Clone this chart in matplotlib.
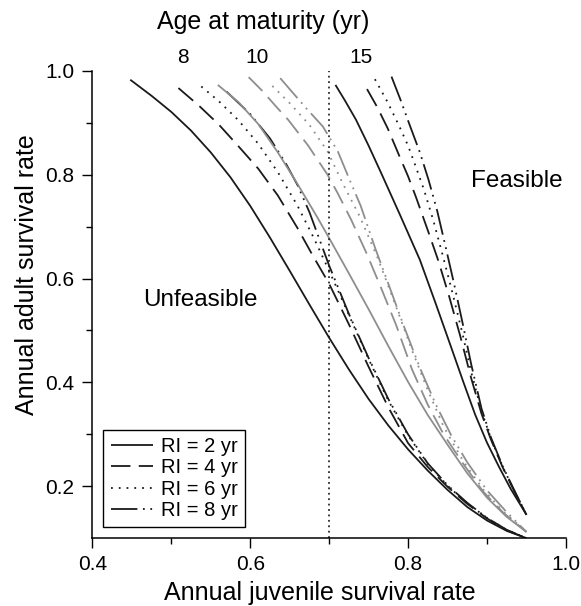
import matplotlib
matplotlib.use("Agg")
import matplotlib.pyplot as plt

plt.rcParams['font.family'] = ['Liberation Sans', 'DejaVu Sans']
plt.rcParams['lines.scale_dashes'] = False

# ---- data ----
# Age at maturity 8 yr (black)
a8_ri2_x = [0.448, 0.475, 0.50, 0.525, 0.55, 0.575, 0.60, 0.625, 0.65, 0.675, 0.70, 0.725, 0.75,
            0.775, 0.80, 0.825, 0.85, 0.875, 0.90, 0.925, 0.95]
a8_ri2_y = [0.983, 0.952, 0.921, 0.885, 0.843, 0.795, 0.740, 0.679, 0.615, 0.550, 0.486, 0.425, 0.368,
            0.317, 0.271, 0.230, 0.193, 0.160, 0.134, 0.114, 0.100]
a8_ri4_x = [0.509, 0.535, 0.56, 0.585, 0.61, 0.635, 0.66, 0.679, 0.70, 0.725, 0.75, 0.775, 0.80,
            0.825, 0.85, 0.875, 0.90, 0.925, 0.95]
a8_ri4_y = [0.967, 0.933, 0.897, 0.855, 0.812, 0.760, 0.697, 0.645, 0.590, 0.512, 0.430, 0.352, 0.283,
            0.237, 0.199, 0.166, 0.138, 0.115, 0.100]
a8_ri6_x = [0.538, 0.56, 0.585, 0.61, 0.635, 0.66, 0.68, 0.70, 0.725, 0.75, 0.775, 0.80, 0.825,
            0.85, 0.875, 0.90, 0.925, 0.95]
a8_ri6_y = [0.970, 0.942, 0.905, 0.860, 0.805, 0.740, 0.680, 0.615, 0.530, 0.445, 0.365, 0.298, 0.243,
            0.201, 0.167, 0.139, 0.116, 0.100]
a8_ri8_x = [0.57, 0.60, 0.625, 0.645, 0.66, 0.675, 0.70, 0.725, 0.75, 0.775, 0.80, 0.825, 0.85,
            0.875, 0.90, 0.925, 0.95]
a8_ri8_y = [0.960, 0.917, 0.870, 0.822, 0.780, 0.728, 0.625, 0.532, 0.447, 0.368, 0.300, 0.244, 0.202,
            0.168, 0.139, 0.116, 0.100]

# Age at maturity 10 yr (grey)
a10_ri2_x = [0.559, 0.585, 0.61, 0.635, 0.66, 0.685, 0.70, 0.725, 0.75, 0.775, 0.80, 0.825, 0.85,
             0.875, 0.90, 0.925, 0.95]
a10_ri2_y = [0.973, 0.940, 0.898, 0.843, 0.782, 0.718, 0.678, 0.610, 0.541, 0.470, 0.401, 0.337, 0.280,
             0.225, 0.178, 0.141, 0.112]
a10_ri4_x = [0.598, 0.615, 0.633, 0.648, 0.673, 0.698, 0.711, 0.728, 0.747, 0.765, 0.785, 0.805,
             0.825, 0.845, 0.87, 0.895, 0.92, 0.95]
a10_ri4_y = [0.988, 0.962, 0.931, 0.906, 0.857, 0.800, 0.764, 0.713, 0.650, 0.585, 0.510, 0.425,
             0.357, 0.300, 0.243, 0.190, 0.150, 0.112]
a10_ri6_x = [0.628, 0.65, 0.675, 0.698, 0.717, 0.739, 0.762, 0.785, 0.805, 0.825, 0.845, 0.87,
             0.895, 0.92, 0.95]
a10_ri6_y = [0.971, 0.938, 0.896, 0.845, 0.784, 0.719, 0.638, 0.545, 0.462, 0.385, 0.315, 0.248,
             0.194, 0.152, 0.112]
a10_ri8_x = [0.638, 0.671, 0.692, 0.711, 0.726, 0.74, 0.758, 0.775, 0.795, 0.815, 0.835, 0.855,
             0.875, 0.90, 0.925, 0.95]
a10_ri8_y = [0.986, 0.928, 0.893, 0.845, 0.790, 0.740, 0.660, 0.590, 0.507, 0.428, 0.358, 0.297,
             0.246, 0.192, 0.150, 0.112]

# Age at maturity 15 yr (black)
a15_ri2_x = [0.708, 0.72, 0.734, 0.75, 0.766, 0.79, 0.815, 0.835, 0.855, 0.87, 0.885, 0.90, 0.915,
             0.93, 0.95]
a15_ri2_y = [0.973, 0.943, 0.906, 0.856, 0.803, 0.722, 0.636, 0.552, 0.466, 0.401, 0.338, 0.284, 0.238,
             0.195, 0.145]
a15_ri4_x = [0.748, 0.761, 0.774, 0.789, 0.80, 0.81, 0.825, 0.838, 0.852, 0.866, 0.88, 0.893, 0.905,
             0.92, 0.935, 0.95]
a15_ri4_y = [0.965, 0.930, 0.890, 0.836, 0.797, 0.757, 0.693, 0.636, 0.566, 0.490, 0.408, 0.340, 0.290,
             0.236, 0.189, 0.145]
a15_ri6_x = [0.758, 0.774, 0.789, 0.80, 0.808, 0.82, 0.832, 0.843, 0.855, 0.868, 0.88, 0.893, 0.905,
             0.92, 0.935, 0.95]
a15_ri6_y = [0.984, 0.940, 0.893, 0.856, 0.823, 0.772, 0.712, 0.650, 0.580, 0.500, 0.420, 0.345, 0.292,
             0.237, 0.190, 0.145]
a15_ri8_x = [0.779, 0.79, 0.802, 0.815, 0.826, 0.837, 0.847, 0.858, 0.869, 0.88, 0.893, 0.905, 0.92,
             0.935, 0.95]
a15_ri8_y = [0.989, 0.946, 0.896, 0.843, 0.790, 0.730, 0.665, 0.592, 0.515, 0.435, 0.350, 0.294, 0.238,
             0.191, 0.145]

ri_labels = ["RI = 2 yr", "RI = 4 yr", "RI = 6 yr", "RI = 8 yr"]
age_labels = ["8", "10", "15"]
age_label_x = [0.515, 0.609, 0.740]
juvenile_threshold = 0.7
x_major = [0.4, 0.6, 0.8, 1.0]
x_minor = [0.5, 0.7, 0.9]
y_major = [0.2, 0.4, 0.6, 0.8, 1.0]
y_minor = [0.3, 0.5, 0.7, 0.9]

# ---- styles ----
styles = [
    '-',
    (0, (14, 6)),
    (0, (1.3, 4.3)),
    (0, (19, 4, 1.3, 4, 1.3, 4)),
]
black = '#1a1a1a'
grey = '#8e8e8e'
lw = 1.3

fig = plt.figure(figsize=(5.81, 6.06), dpi=100)
ax = fig.add_axes([0.159, 0.112, 0.815, 0.771])

groups = [
    (black, [(a8_ri2_x, a8_ri2_y), (a8_ri4_x, a8_ri4_y), (a8_ri6_x, a8_ri6_y), (a8_ri8_x, a8_ri8_y)], True),
    (grey, [(a10_ri2_x, a10_ri2_y), (a10_ri4_x, a10_ri4_y), (a10_ri6_x, a10_ri6_y), (a10_ri8_x, a10_ri8_y)], False),
    (black, [(a15_ri2_x, a15_ri2_y), (a15_ri4_x, a15_ri4_y), (a15_ri6_x, a15_ri6_y), (a15_ri8_x, a15_ri8_y)], False),
]
handles = []
for color, curves, labelled in groups:
    for i, (xs, ys) in enumerate(curves):
        ln, = ax.plot(xs, ys, color=color, lw=lw, linestyle=styles[i],
                      label=ri_labels[i] if labelled else None,
                      solid_capstyle='butt', dash_capstyle='butt',
                      solid_joinstyle='round', dash_joinstyle='round')
        if labelled:
            handles.append(ln)

ax.axvline(juvenile_threshold, color=black, lw=1.2, linestyle=(0, (1.3, 2.6)))

ax.set_xlim(0.4, 1.0)
ax.set_ylim(0.1, 1.0)
ax.set_xticks(x_major)
ax.set_xticks(x_minor, minor=True)
ax.set_yticks(y_major)
ax.set_yticks(y_minor, minor=True)
ax.tick_params(which='major', direction='out', length=7, width=1, labelsize=15, pad=5)
ax.tick_params(which='minor', direction='out', length=4, width=1)
ax.tick_params(axis='y', which='major', pad=6)
for s in ['top', 'right']:
    ax.spines[s].set_visible(False)
for s in ['left', 'bottom']:
    ax.spines[s].set_linewidth(1.1)

fig.text(0.551, 0.021, "Annual juvenile survival rate", fontsize=18, ha='center', va='center')
fig.text(0.046, 0.546, "Annual adult survival rate", fontsize=18, ha='center', va='center', rotation=90)

ax.text(0.617, 1.094, "Age at maturity (yr)", fontsize=18, ha='center', va='center', clip_on=False)
for lab, xp in zip(age_labels, age_label_x):
    ax.text(xp, 1.026, lab, fontsize=15, ha='center', va='center', clip_on=False)

ax.text(0.880, 0.787, "Feasible", fontsize=17.5, ha='left', va='center')
ax.text(0.464, 0.559, "Unfeasible", fontsize=17.5, ha='left', va='center')

leg = ax.legend(handles=handles, loc='lower left', fontsize=14.5, frameon=True,
                fancybox=False, edgecolor='black', framealpha=1,
                handlelength=2.1, handletextpad=0.4, labelspacing=0.12,
                borderpad=0.35, borderaxespad=0.55)
leg.get_frame().set_linewidth(1.0)

fig.savefig("out.png", dpi=100)
